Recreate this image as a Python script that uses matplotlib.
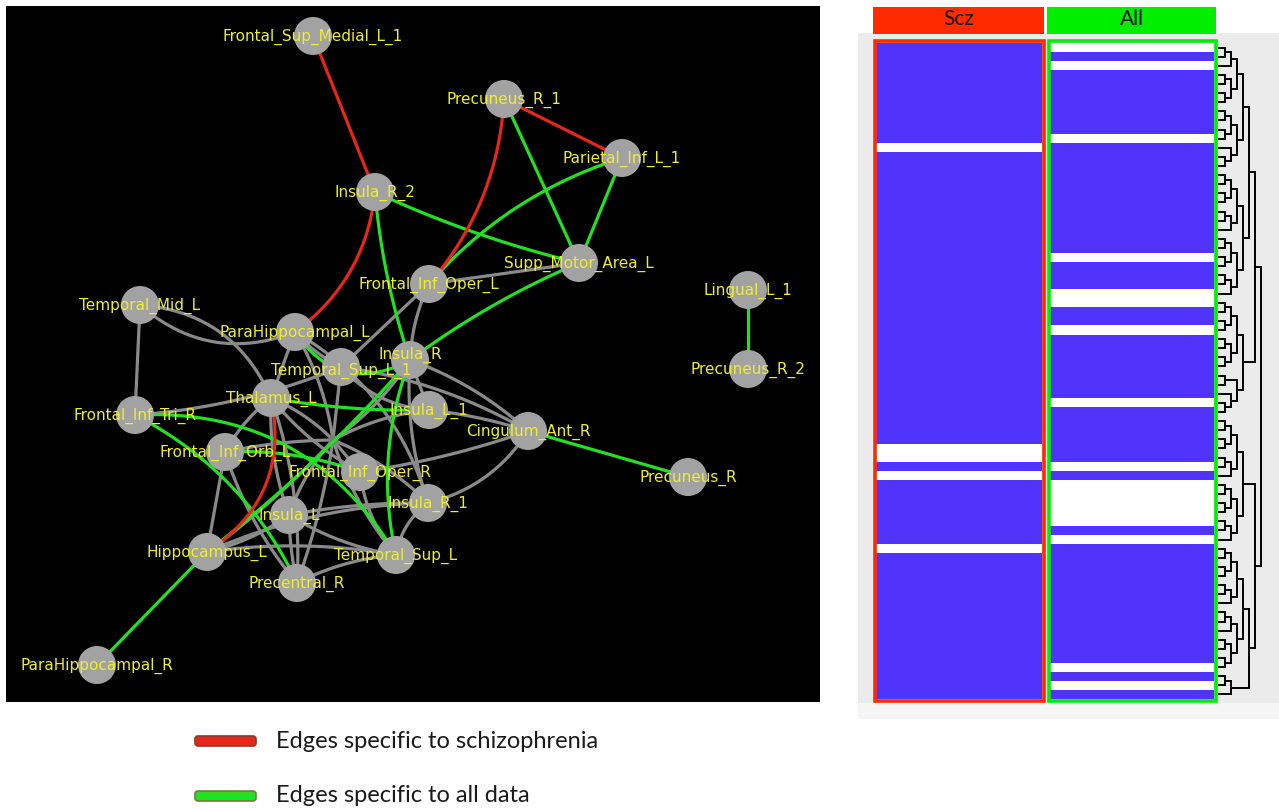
import numpy as np
import matplotlib
matplotlib.use('Agg')
import matplotlib.pyplot as plt
from matplotlib.patches import Circle, Rectangle, FancyBboxPatch
from matplotlib.colors import ListedColormap

# ---------------- data ----------------
node_names = [
    'Frontal_Sup_Medial_L_1', 'Precuneus_R_1', 'Parietal_Inf_L_1', 'Insula_R_2',
    'Supp_Motor_Area_L', 'Frontal_Inf_Oper_L', 'Lingual_L_1', 'Precuneus_R_2',
    'Temporal_Mid_L', 'ParaHippocampal_L', 'Temporal_Sup_L_1', 'Insula_R',
    'Thalamus_L', 'Insula_L_1', 'Frontal_Inf_Tri_R', 'Cingulum_Ant_R',
    'Frontal_Inf_Orb_L', 'Frontal_Inf_Oper_R', 'Precuneus_R', 'Insula_R_1',
    'Insula_L', 'Hippocampus_L', 'Temporal_Sup_L', 'Precentral_R',
    'ParaHippocampal_R', '']
# network layout positions (layout units, y grows downward)
node_x = [313, 504, 622, 375, 579, 429, 748, 748, 140, 295, 341, 410,
          271, 429, 135, 528, 225, 360, 688, 428, 289, 207, 396, 297, 97, 333]
node_y = [36, 99, 158, 192, 263, 284, 290, 369, 305, 332, 367, 360,
          398, 410, 415, 431, 452, 472, 477, 503, 515, 552, 555, 583, 665, 440]

red_edges = [(0, 3), (1, 2), (1, 5), (3, 9), (12, 21)]
green_edges = [(1, 4), (2, 4), (2, 5), (3, 4), (3, 11), (4, 11), (15, 18),
               (6, 7), (21, 24), (14, 23), (14, 22), (16, 17), (9, 11),
               (12, 13), (11, 22), (21, 11)]
gray_edges = [(8, 14), (8, 12), (8, 9), (14, 10), (5, 4), (5, 11), (5, 10),
              (15, 11), (15, 13), (15, 10), (15, 17), (15, 19),
              (25, 9), (25, 10), (25, 11), (25, 13), (25, 12), (25, 16),
              (25, 17), (25, 20), (25, 21), (25, 22), (25, 23), (25, 19),
              (12, 20), (12, 23), (12, 16), (16, 21), (16, 23), (20, 22),
              (20, 23), (21, 22), (21, 19), (21, 20), (17, 22), (19, 22),
              (9, 12), (9, 10), (9, 19), (10, 13), (11, 13), (11, 19),
              (23, 22), (20, 19), (12, 17)]

heat_columns = ['Scz', 'All']
n_rows = 72
scz_absent_rows = [11, 44, 45, 47, 55]
all_absent_rows = [0, 2, 10, 23, 27, 28, 31, 39, 46, 48, 49, 50, 51, 52,
                   54, 68, 70]

dendro_tree = [
    [
        [
            [[[[0, 1], 2], [[3, 4], [5, 6]]], [[[7, 8], [9, 10]], [11, [12, 13]]]],
            [[[[14, 15], [16, 17]], [[18, 19], 20]], [[[21, 22], [23, 24]], [[25, 26], 27]]],
        ],
        [[[[28, 29], [30, 31]], [[32, 33], [34, 35]]], [[36, 37], [38, [39, 40]]]],
    ],
    [
        [[[[41, 42], [43, 44]], [[45, 46], 47]], [[[48, 49], [50, 51]], [[52, 53], 54]]],
        [
            [[[[55, 56], [57, 58]], [[59, 60], 61]], [[[62, 63], 64], [[65, 66], [67, 68]]]],
            [[69, 70], 71],
        ],
    ],
]

legend_labels = ['Edges specific to schizophrenia', 'Edges specific to all data']

# ---------------- style ----------------
red_bend = [0, 0, -0.17, -0.22, -0.34]
green_bend = [0, 0, 0.14, 0.05, 0.06, 0.06, 0, 0, 0, -0.17, -0.3, -0.1, 0.45,
              0.05, 0.15, 0.05]
gray_bend = [0, -0.3, 0.3, 0.08, 0, 0.1, 0,
             0.1, 0.05, 0.1, -0.05, -0.2,
             0.1, 0, 0.1, -0.1, 0.1, 0.05,
             0, 0.1, -0.05, 0.1, -0.05, -0.1,
             0.1, -0.1, 0.1, 0, 0.1, 0.1,
             0.05, -0.08, -0.1, 0.1, 0.15, 0.2,
             0, 0.1, -0.2, 0.2, 0, 0.1,
             -0.1, -0.05, 0.1]
# small vertical label nudges (layout units) to keep the two crowded labels readable
label_dy = {'Insula_R': -6, 'Temporal_Sup_L_1': 3}

C_RED = '#e8261a'
C_GREEN = '#22e022'
C_GRAY = '#8a8a8a'
C_NODE = '#a2a2a2'
C_LABEL = '#eeee30'
C_BLUE = '#5034fc'

W, H = 1279, 810
fig = plt.figure(figsize=(W / 100, H / 100), dpi=100)
ax = fig.add_axes([0, 0, 1, 1])
ax.set_xlim(0, W)
ax.set_ylim(H, 0)
ax.axis('off')

# ---- network panel ----
ax.add_patch(Rectangle((6, 6), 814, 696, facecolor='black', edgecolor='none', zorder=0))


def bezier(p0, p2, bend, n=60):
    p0 = np.asarray(p0, float)
    p2 = np.asarray(p2, float)
    d = p2 - p0
    L = np.hypot(*d)
    perp = np.array([-d[1], d[0]]) / L
    c = (p0 + p2) / 2 + bend * L * perp
    t = np.linspace(0, 1, n)[:, None]
    return (1 - t) ** 2 * p0 + 2 * (1 - t) * t * c + t ** 2 * p2


def draw_edges(edges, bends, color, z):
    for (a, b), bd in zip(edges, bends):
        pts = bezier((node_x[a], node_y[a]), (node_x[b], node_y[b]), bd)
        ax.plot(pts[:, 0], pts[:, 1], color=color, lw=2.3, solid_capstyle='round', zorder=z)


draw_edges(gray_edges, gray_bend, C_GRAY, 1)
draw_edges(green_edges, green_bend, C_GREEN, 2)
draw_edges(red_edges, red_bend, C_RED, 3)

for name, x, y in zip(node_names, node_x, node_y):
    if name:
        ax.add_patch(Circle((x, y), 19, facecolor=C_NODE, edgecolor='none', zorder=4))
        ax.text(x, y + 1 + label_dy.get(name, 0), name, color=C_LABEL, fontsize=11,
                ha='center', va='center', family='DejaVu Sans', zorder=5)
    else:
        ax.add_patch(Circle((x, y), 5, facecolor='#7a7a7a', edgecolor='none', zorder=1.5))

# ---- legend ----
leg_colors = [(C_RED, '#8a3a2a'), (C_GREEN, '#7a7a3a')]
for i, (lab, (fc, ec)) in enumerate(zip(legend_labels, leg_colors)):
    yc = 741 + i * 55
    ax.add_patch(FancyBboxPatch((195, yc - 5), 61, 10, boxstyle='round,pad=0,rounding_size=3',
                                facecolor=fc, edgecolor=ec, lw=1.2, zorder=2))
    ax.text(276, yc, lab, fontsize=17, family='Lato', color='#1a1a1a', va='center', ha='left')

# ---- heatmap panel ----
ax.add_patch(Rectangle((858, 33), W - 858, 670, facecolor='#ebebeb', edgecolor='none', zorder=0))
ax.add_patch(Rectangle((858, 703), W - 858, 16, facecolor='#f5f5f5', edgecolor='none', zorder=0))

col_left = [873, 1047]
col_width = [172, 170]
col_colors = ['#ff2a00', '#00ee00']
absent = [scz_absent_rows, all_absent_rows]
top, bottom = 43, 699
cmap = ListedColormap(['white', C_BLUE])
for j, name in enumerate(heat_columns):
    x0 = col_left[j]
    w = col_width[j]
    vals = np.ones((n_rows, 1))
    vals[absent[j], 0] = 0
    ax.imshow(vals, cmap=cmap, vmin=0, vmax=1, aspect='auto', interpolation='nearest',
              extent=[x0 + 3, x0 + w - 3, bottom, top], zorder=1)
    ax.add_patch(Rectangle((x0 + 1.5, 41), w - 3, 660, facecolor='none',
                           edgecolor=col_colors[j], lw=2.6, zorder=2))
    ax.add_patch(Rectangle((x0, 7), w - 1, 27, facecolor=col_colors[j], edgecolor='none', zorder=2))
    ax.text(x0 + w / 2, 19, name, fontsize=15, family='Lato', color='#111111',
            ha='center', va='center', zorder=3)

# ---- dendrogram ----
row_h = (bottom - top) / n_rows
x_leaf = 1219
step = 6.0


def draw_tree(node):
    if isinstance(node, int):
        return top + (node + 0.5) * row_h, 0
    res = [draw_tree(c) for c in node]
    h = 1 + max(r[1] for r in res)
    xn = x_leaf + h * step
    for yc, hc in res:
        ax.plot([x_leaf + hc * step, xn], [yc, yc], color='black', lw=1.4, zorder=2)
    ys = [r[0] for r in res]
    ax.plot([xn, xn], [min(ys), max(ys)], color='black', lw=1.4, zorder=2)
    return (min(ys) + max(ys)) / 2, h


draw_tree(dendro_tree)

fig.savefig('out.png', dpi=100, facecolor='white')
